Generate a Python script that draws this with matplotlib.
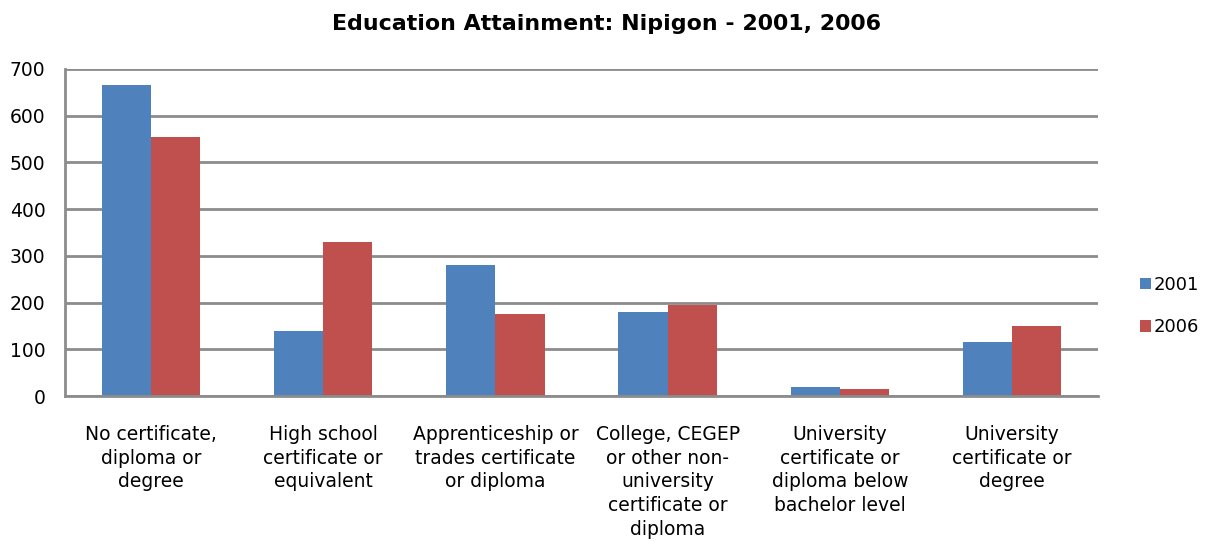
import matplotlib
matplotlib.use("Agg")
import matplotlib.pyplot as plt
import numpy as np
from matplotlib.patches import Patch

categories = [
    "No certificate,\ndiploma or\ndegree",
    "High school\ncertificate or\nequivalent",
    "Apprenticeship or\ntrades certificate\nor diploma",
    "College, CEGEP\nor other non-\nuniversity\ncertificate or\ndiploma",
    "University\ncertificate or\ndiploma below\nbachelor level",
    "University\ncertificate or\ndegree",
]
series_names = ["2001", "2006"]
values_2001 = [665, 140, 280, 180, 20, 115]
values_2006 = [555, 330, 175, 195, 15, 150]
y_ticks = [0, 100, 200, 300, 400, 500, 600, 700]

colors = ["#4F81BD", "#C0504D"]
grid_color = "#8C8C8C"

plt.rcParams["font.family"] = ["DejaVu Sans"]

fig = plt.figure(figsize=(12.07, 5.41), dpi=100)
ax = fig.add_axes([0.0539, 0.268, 0.8558, 0.6045])

x = np.arange(len(categories))
bw = 1 / 3.5
ax.bar(x - bw / 2, values_2001, width=bw, color=colors[0], zorder=3)
ax.bar(x + bw / 2, values_2006, width=bw, color=colors[1], zorder=3)

ax.set_xlim(-0.5, len(categories) - 0.5)
ax.set_ylim(0, 700)
ax.set_yticks(y_ticks)
ax.set_yticklabels([str(v) for v in y_ticks], fontsize=13.5)
ax.set_xticks(x)
ax.set_xticklabels(categories, fontsize=13.5, linespacing=1.31, va="top")
ax.tick_params(axis="x", length=0, pad=21)
ax.tick_params(axis="y", length=0, pad=14)

ax.yaxis.grid(True, color=grid_color, linewidth=2, zorder=0)
for side in ["top", "right"]:
    ax.spines[side].set_visible(False)
for side in ["left", "bottom"]:
    ax.spines[side].set_color(grid_color)
    ax.spines[side].set_linewidth(2)
ax.spines["bottom"].set_zorder(4)

fig.suptitle("Education Attainment: Nipigon - 2001, 2006", x=0.5025, y=0.975,
             fontsize=15.9, fontweight="bold", va="top")

handles = [Patch(facecolor=c, edgecolor="none") for c in colors]
fig.legend(handles, series_names, loc="center left", bbox_to_anchor=(0.931, 0.434),
           frameon=False, fontsize=13, handlelength=0.6, handleheight=0.6,
           handletextpad=0.15, labelspacing=1.35)

fig.savefig("out.png", dpi=100)
